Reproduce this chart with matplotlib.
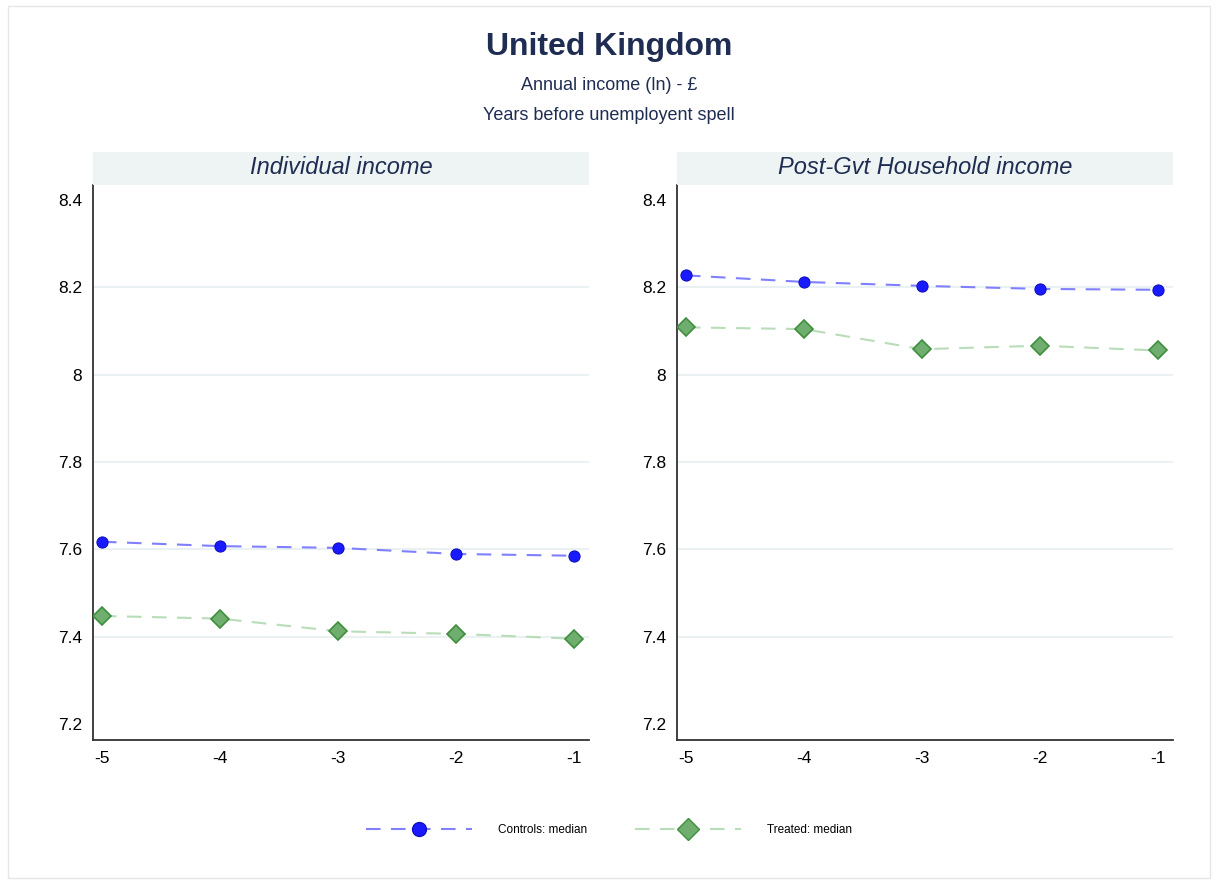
import matplotlib
matplotlib.use("Agg")
import matplotlib.pyplot as plt
from matplotlib.lines import Line2D
from matplotlib.patches import Rectangle

plt.rcParams["font.family"] = ["Liberation Sans", "DejaVu Sans"]

years = [-5, -4, -3, -2, -1]
panel_titles = ["Individual income", "Post-Gvt Household income"]
controls_ind = [7.617, 7.607, 7.603, 7.589, 7.585]
treated_ind = [7.447, 7.441, 7.412, 7.406, 7.395]
controls_hh = [8.227, 8.212, 8.203, 8.196, 8.194]
treated_hh = [8.108, 8.104, 8.058, 8.066, 8.055]
yticks = [7.2, 7.4, 7.6, 7.8, 8, 8.2, 8.4]
ytick_labels = ["7.2", "7.4", "7.6", "7.8", "8", "8.2", "8.4"]

NAVY = "#1f2d52"
BLUE_M, BLUE_L = "#1a1aff", "#8080ff"
GREEN_M, GREEN_E, GREEN_L = "#6fae6f", "#3f8f3f", "#b8ddb8"

W, H = 1218, 882
fig = plt.figure(figsize=(W / 100, H / 100), dpi=100)
fig.patches.append(Rectangle((8 / W, 4 / H), 1202 / W, 872 / H, transform=fig.transFigure,
                             fill=False, edgecolor="#e6e6e6", lw=1))

fig.text(0.5, 1 - 47 / H, "United Kingdom", ha="center", va="center",
         fontsize=23, fontweight="bold", color=NAVY)
fig.text(0.5, 1 - 86 / H, "Annual income (ln) - £", ha="center", va="center",
         fontsize=13, color=NAVY)
fig.text(0.5, 1 - 115 / H, "Years before unemployent spell", ha="center", va="center",
         fontsize=13, color=NAVY)

panels = [(93, panel_titles[0], controls_ind, treated_ind),
          (677, panel_titles[1], controls_hh, treated_hh)]
for left, title, ctrl, trt in panels:
    ax = fig.add_axes([left / W, 1 - 740 / H, 496 / W, 555 / H])
    ax.set_xlim(-5.076, -0.873)
    ax.set_ylim(7.163, 8.434)
    for g in [7.4, 7.6, 7.8, 8, 8.2]:
        ax.axhline(g, color="#eaf1f3", lw=1.5, zorder=0)
    ax.plot(years, ctrl, color=BLUE_L, lw=1.5, dashes=(7, 5), zorder=2)
    ax.plot(years, ctrl, ls="none", marker="o", ms=8, mfc=BLUE_M, mec="#1010c0",
            mew=0.8, zorder=3)
    ax.plot(years, trt, color=GREEN_L, lw=1.5, dashes=(7, 5), zorder=2)
    ax.plot(years, trt, ls="none", marker="D", ms=9, mfc=GREEN_M, mec=GREEN_E,
            mew=1.2, zorder=3)
    ax.set_xticks(years)
    ax.set_xticklabels([str(y) for y in years])
    ax.set_yticks(yticks)
    ax.set_yticklabels(ytick_labels)
    ax.tick_params(length=0, labelsize=12.5, colors="black", pad=8)
    for s in ["top", "right"]:
        ax.spines[s].set_visible(False)
    for s in ["left", "bottom"]:
        ax.spines[s].set_color("#333333")
        ax.spines[s].set_linewidth(1.3)
    # panel header strip
    fig.patches.append(Rectangle((left / W, 1 - 185 / H), 496 / W, 33 / H,
                                 transform=fig.transFigure, facecolor="#eef4f4",
                                 edgecolor="none"))
    fig.text((left + 248) / W, 1 - 168 / H, title, ha="center", va="center",
             fontsize=17, style="italic", color=NAVY)

handles = [
    Line2D([], [], color=BLUE_L, lw=1.5, dashes=(7, 5), marker="o", ms=10,
           mfc=BLUE_M, mec="#1010c0"),
    Line2D([], [], color=GREEN_L, lw=1.5, dashes=(7, 5), marker="D", ms=11,
           mfc=GREEN_M, mec=GREEN_E),
]
fig.legend(handles, ["Controls: median", "Treated: median"], loc="center",
           bbox_to_anchor=(0.5, 1 - 830 / H), ncol=2, frameon=False, fontsize=8.5,
           handlelength=9, columnspacing=4, handletextpad=2.2)

fig.savefig("out.png", dpi=100, facecolor="white")
